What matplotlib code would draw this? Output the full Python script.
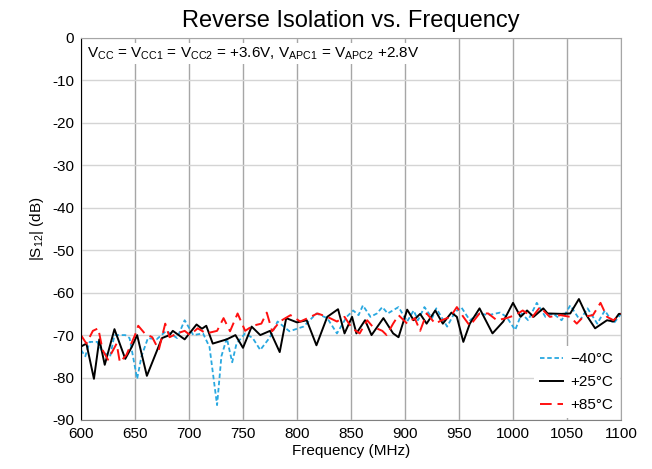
import matplotlib.pyplot as plt
import numpy as np

plt.rcParams['font.family'] = ['Liberation Sans', 'DejaVu Sans']
plt.rcParams['axes.unicode_minus'] = False
plt.rcParams['mathtext.fontset'] = 'custom'
plt.rcParams['mathtext.rm'] = 'Liberation Sans'

# -40C
f_cold = [600, 604, 608, 615, 620, 627, 631, 641, 645, 652, 656, 662, 670, 679, 689, 696, 704, 713,
          719, 726, 730, 735, 740, 744, 752, 759, 766, 775, 782, 793, 806, 818, 828, 837, 846, 852,
          857, 861, 868, 874, 879, 884, 894, 902, 908, 912, 918, 925, 929, 939, 946, 952, 960, 969,
          977, 988, 994, 1002, 1008, 1014, 1022, 1030, 1037, 1045, 1053, 1062, 1069, 1078, 1085,
          1093, 1100]
s_cold = [-73.5, -75, -71.6, -71.6, -74, -75, -70, -70, -70.7, -80.3, -75, -70.7, -71, -69, -70.7,
          -66.5, -70, -69.6, -72.8, -86.5, -75, -70.7, -76.4, -72, -69.6, -70.7, -73.5, -70.5,
          -66.8, -69.1, -68, -64.9, -66, -69.6, -65.7, -64.2, -65.3, -63, -65.7, -64.9, -63.4,
          -64.9, -63.4, -66.8, -64.2, -66.5, -63.4, -66, -63.7, -68, -64.7, -63.4, -66.5, -64.9,
          -65.3, -64.7, -65.7, -68.8, -64.9, -66.5, -62.4, -65.7, -64.9, -66.5, -63, -66.5, -63.7,
          -67.3, -64.2, -67.3, -65]

# +25C
f_room = [600, 605, 612, 617, 622, 631, 641, 647, 652, 661, 675, 682, 685, 696, 707, 712, 716, 722,
          735, 743, 750, 758, 766, 775, 784, 790, 800, 809, 818, 828, 838, 844, 851, 855, 863, 869,
          880, 889, 894, 902, 908, 914, 920, 928, 935, 943, 948, 954, 960, 969, 981, 991, 1000,
          1007, 1013, 1019, 1028, 1032, 1045, 1053, 1061, 1068, 1076, 1087, 1093, 1098, 1100]
s_room = [-72.7, -72, -80.3, -71, -77, -68.6, -75.6, -72.8, -70, -79.6, -70.7, -70, -69, -71, -67.5,
          -68.5, -67.8, -72, -71, -70, -73, -68, -70, -69, -74, -66, -67, -66.5, -72.4, -65.7,
          -63.9, -69.6, -65.7, -69.6, -66.5, -70, -66, -69.6, -70.5, -64, -66.5, -65, -67.3, -64.2,
          -67.3, -64.7, -65.7, -71.6, -67.3, -63.7, -69.6, -66.8, -62.4, -65.7, -64.2, -65.7,
          -63.7, -64.9, -65, -64.9, -61.5, -65.3, -68.4, -66.5, -66.8, -65, -65]

# +85C
f_hot = [600, 605, 611, 616, 620, 625, 633, 636, 642, 650, 653, 659, 666, 672, 678, 682, 689, 696,
         701, 708, 716, 726, 732, 738, 745, 752, 759, 767, 772, 777, 784, 794, 803, 810, 819, 828,
         837, 844, 851, 858, 865, 870, 879, 883, 889, 894, 902, 909, 914, 920, 928, 934, 942, 948,
         954, 960, 969, 977, 985, 994, 1002, 1009, 1018, 1025, 1034, 1044, 1053, 1059, 1065, 1074,
         1081, 1087, 1093, 1100]
s_hot = [-70, -72, -69, -68.4, -73.5, -75.8, -72, -76.4, -74.7, -70, -67.8, -69.6, -70.5, -73.5,
         -67.3, -70.5, -69.6, -69, -70, -68.4, -69.6, -69, -66, -69.1, -64.9, -69, -67.8, -67.3,
         -64.7, -69.1, -66.8, -65.3, -66.8, -66, -64.9, -65.7, -66.8, -65.7, -68.4, -69.6, -66.5,
         -68, -69, -70, -67.3, -65.3, -67.3, -66, -69, -64.9, -67.3, -66.5, -65.7, -63.4, -65.7,
         -67.8, -64.9, -64.9, -66.5, -66, -65.3, -64.2, -65.7, -63.4, -65.7, -65.3, -65.7, -67.3,
         -65.7, -65.3, -62.4, -65.7, -66.5, -65]

fig = plt.figure(figsize=(6.52, 4.69), dpi=100)
ax = fig.add_axes([0.1242, 0.1045, 0.8283, 0.8145])

ax.plot(f_cold, s_cold, color='#29a8e0', lw=1.3, ls=(0, (2.5, 1.5)), label='\u221240\u00b0C')
ax.plot(f_room, s_room, color='black', lw=1.4, label='+25\u00b0C')
ax.plot(f_hot, s_hot, color='#ff1010', lw=1.4, ls=(0, (6, 3)), label='+85\u00b0C')

ax.set_xlim(600, 1100)
ax.set_ylim(-90, 0)
ax.set_xticks(np.arange(600, 1101, 50))
ax.set_yticks(np.arange(-90, 1, 10))
ax.xaxis.grid(True, color='#a6a6a6', lw=1)
ax.yaxis.grid(True, color='#d4d4d4', lw=1)
ax.set_axisbelow(True)
ax.tick_params(length=0, labelsize=11, pad=5)
for s in ['top', 'right']:
    ax.spines[s].set_color('#a6a6a6')
ax.spines['left'].set_color('black')
ax.spines['bottom'].set_color('#808080')

ax.set_title('Reverse Isolation vs. Frequency', fontsize=17, pad=8)
ax.set_xlabel('Frequency (MHz)', fontsize=11, labelpad=2)
ax.set_ylabel('|S$_{\\mathregular{12}}$| (dB)', fontsize=11, labelpad=4)

cond = ('V$_{\\mathregular{CC}}$ = V$_{\\mathregular{CC1}}$ = V$_{\\mathregular{CC2}}$ = +3.6V, '
        'V$_{\\mathregular{APC1}}$ = V$_{\\mathregular{APC2}}$ +2.8V')
ax.text(0.012, 0.98, cond, transform=ax.transAxes, ha='left', va='top', fontsize=11,
        zorder=2.4, bbox=dict(facecolor='white', edgecolor='none', pad=1.5))

leg = ax.legend(loc='lower right', frameon=True, fontsize=11, handlelength=1.5,
                handletextpad=0.5, borderaxespad=0.1, labelspacing=0.6)
leg.get_frame().set_edgecolor('none')
leg.get_frame().set_alpha(1)

fig.savefig('out.png', dpi=100)
